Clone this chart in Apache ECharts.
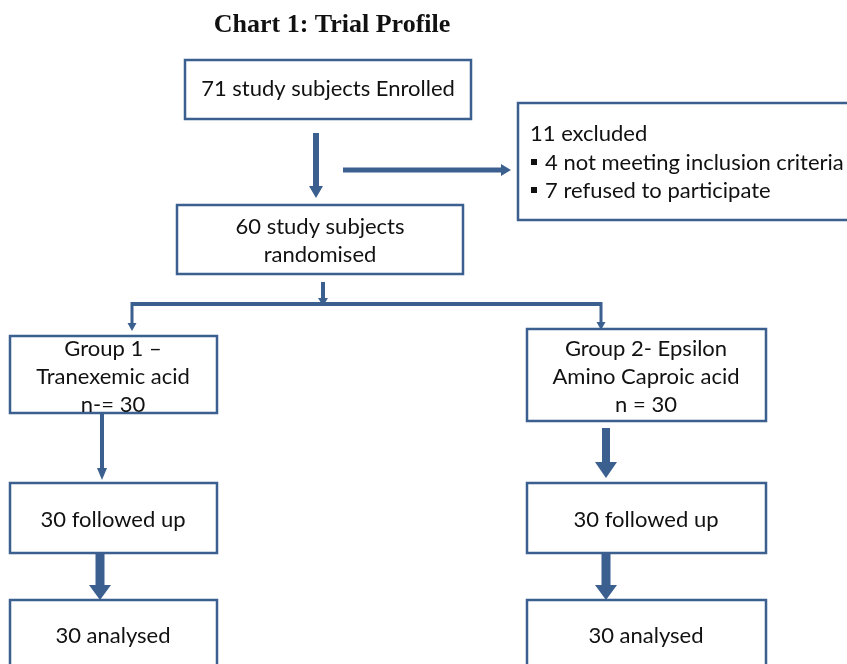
<!DOCTYPE html>
<html>
<head>
<meta charset="utf-8">
<script src="https://cdn.jsdelivr.net/npm/echarts@6/dist/echarts.min.js"></script>
<style>
  html, body { margin: 0; padding: 0; background: #fff; }
  #main { width: 847px; height: 664px; }
</style>
</head>
<body>
<div id="main"></div>
<script>
// 文本数据
var chartTitle = 'Chart 1: Trial Profile';
var enrolledText = ['71 study subjects Enrolled'];
var excludedHead = '11 excluded';
var excludedItems = ['4 not meeting inclusion criteria', '7 refused to participate'];
var randomisedText = ['60 study subjects', 'randomised'];
var group1Text = ['Group 1 –', 'Tranexemic acid', 'n-= 30'];
var group2Text = ['Group 2- Epsilon', 'Amino Caproic acid', 'n = 30'];
var followUpText = ['30 followed up', '30 followed up'];
var analysedText = ['30 analysed', '30 analysed'];

var BLUE = '#3b6090';
var FONT = '22px Lato, "Open Sans", sans-serif';

var myChart = echarts.init(document.getElementById('main'));
var elements = [];

// 方框
function box(x, y, w, h) {
  elements.push({
    type: 'rect',
    shape: { x: x, y: y, width: w, height: h },
    style: { fill: '#fff', stroke: BLUE, lineWidth: 2.5 }
  });
}

// 居中多行文字
function lines(cx, ys, arr) {
  arr.forEach(function (t, i) {
    elements.push({
      type: 'text',
      style: { text: t, x: cx, y: ys[i], align: 'center', verticalAlign: 'middle', font: FONT, fill: '#111' }
    });
  });
}

// 向下箭头
function arrowDown(x, y1, y2, shaft, headW, headH) {
  var s = shaft / 2, h = headW / 2, yb = y2 - headH;
  elements.push({
    type: 'polygon',
    shape: { points: [[x - s, y1], [x + s, y1], [x + s, yb], [x + h, yb], [x, y2], [x - h, yb], [x - s, yb]] },
    style: { fill: BLUE }
  });
}

// 向右箭头
function arrowRight(y, x1, x2, shaft, headW, headH) {
  var s = shaft / 2, h = headW / 2, xb = x2 - headH;
  elements.push({
    type: 'polygon',
    shape: { points: [[x1, y - s], [xb, y - s], [xb, y - h], [x2, y], [xb, y + h], [xb, y + s], [x1, y + s]] },
    style: { fill: BLUE }
  });
}

function line(pts, w) {
  elements.push({
    type: 'polyline',
    shape: { points: pts },
    style: { stroke: BLUE, lineWidth: w, fill: null }
  });
}

// 标题
elements.push({
  type: 'text',
  style: { text: chartTitle, x: 332, y: 25, align: 'center', verticalAlign: 'middle',
    font: 'bold 26px "Liberation Serif", "Times New Roman", serif', fill: '#111' }
});

// 入组
box(185, 60, 286, 59);
lines(328, [89], enrolledText);
arrowDown(316, 133, 198, 6, 14, 12);
arrowRight(170, 343, 511, 5, 12, 10);

// 排除
box(518, 103, 340, 117);
elements.push({
  type: 'text',
  style: { text: excludedHead, x: 530, y: 134, align: 'left', verticalAlign: 'middle', font: FONT, fill: '#111' }
});
excludedItems.forEach(function (t, i) {
  var y = 163 + i * 28;
  elements.push({ type: 'rect', shape: { x: 531, y: y - 4, width: 6, height: 6 }, style: { fill: '#111' } });
  elements.push({
    type: 'text',
    style: { text: t, x: 545, y: y, align: 'left', verticalAlign: 'middle', font: FONT, fill: '#111' }
  });
});

// 随机
box(177, 205, 286, 69);
lines(320, [227, 255], randomisedText);
arrowDown(323, 282, 306, 4, 10, 8);
line([[132, 304], [601, 304]], 4);
arrowDown(132, 302, 331, 3, 9, 8);
arrowDown(601, 302, 330, 3, 9, 8);

// 分组
box(10, 336, 207, 77);
lines(113, [349, 377, 405], group1Text);
box(527, 329, 239, 92);
lines(646, [349, 377, 405], group2Text);

arrowDown(102, 413, 480, 4, 10, 12);
arrowDown(606, 428, 478, 8, 22, 16);

// 随访
box(10, 483, 207, 70);
lines(113, [520], [followUpText[0]]);
box(527, 483, 239, 70);
lines(646, [520], [followUpText[1]]);

arrowDown(100, 553, 600, 9, 22, 15);
arrowDown(606, 553, 600, 9, 22, 15);

// 分析
box(10, 600, 207, 80);
lines(113, [636], [analysedText[0]]);
box(527, 600, 239, 80);
lines(646, [636], [analysedText[1]]);

var option = {
  backgroundColor: '#fff',
  graphic: { elements: elements }
};
myChart.setOption(option);
</script>
</body>
</html>
